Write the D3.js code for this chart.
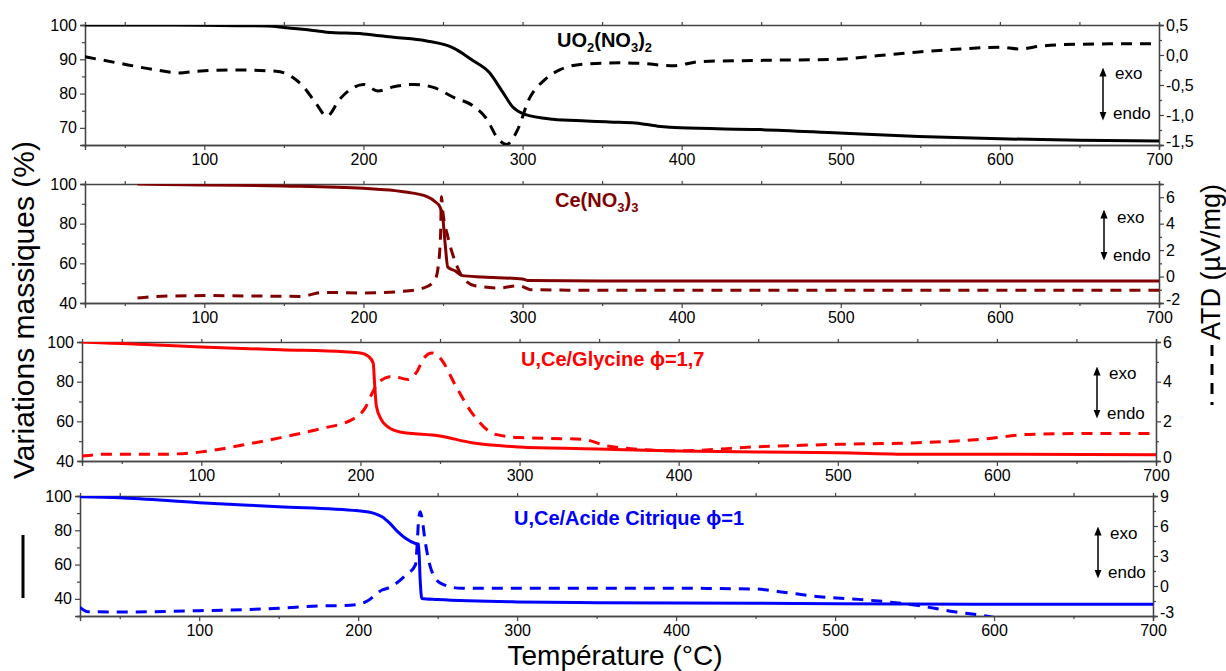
<!DOCTYPE html>
<html><head><meta charset="utf-8">
<script src="https://cdn.jsdelivr.net/npm/d3@7"></script>
<style>
html,body{margin:0;padding:0;background:#fff;}
svg{display:block;font-family:"Liberation Sans",Arial,sans-serif;}
</style></head>
<body><svg id="c" width="1226" height="671"></svg>
<script>
// ---------- DATA ----------
const xTicks = [100,200,300,400,500,600,700];
const xMinor = [50,150,250,350,450,550,650];

// Panel 1 : UO2(NO3)2
const uoTgT = [25,60,100,140,150,165,177,200,219,239,257,263,269,279,287,294,301,319,340,361,369,385,399,449,499,549,600,650,700];
const uoTgV = [100,100,99.9,99.7,99.3,98.6,97.9,97.4,96.4,95.4,93.2,91.5,89.6,86.2,80.8,76,74,72.5,72,71.6,71.5,70.5,70.0,69.5,68.5,67.5,66.8,66.4,66.2];
const uoDtaT = [25,45,70,84,95,120,145,157,162,170,177,185,192,200,209,219,232,244,257,269,277,285,290,297,304,314,324,339,361,374,395,411,449,499,524,549,575,600,612,626,651,700];
const uoDtaV = [-0.03,-0.13,-0.25,-0.30,-0.27,-0.25,-0.27,-0.40,-0.52,-0.80,-1.02,-0.74,-0.57,-0.49,-0.60,-0.53,-0.49,-0.54,-0.71,-0.85,-1.05,-1.41,-1.49,-1.24,-0.74,-0.41,-0.24,-0.15,-0.13,-0.14,-0.18,-0.11,-0.09,-0.07,-0.01,0.05,0.10,0.13,0.10,0.15,0.18,0.19];

// Panel 2 : Ce(NO3)3
const ceTgT = [58,100,150,200,225,240,245,248,250,251.5,253,258,262,275,300,303,350,700];
const ceTgV = [100,99.5,99.0,97.8,96.1,93.6,91.1,88.6,81.9,68.5,58.1,56,53.8,53.1,52.1,51.4,51.1,51.1];
const ceDtaT = [58,70,100,160,175,200,225,238,245,247,248.5,249,250,253,258,262,270,285,298,305,350,700];
const ceDtaV = [-1.62,-1.5,-1.44,-1.5,-1.2,-1.24,-1.12,-0.86,-0.24,0.77,3.28,6.05,4.8,3.03,1.02,0.0,-0.69,-0.86,-0.69,-0.99,-1.04,-1.04];

// Panel 3 : U,Ce/Glycine
const glTgT = [25,50,100,150,190,200,205,208,209,210,213,218,225,250,270,300,340,355,400,450,500,550,600,700];
const glTgV = [100,99.2,97.5,96.1,95.1,94.5,92.8,89.4,77.7,67.7,61,56.8,54.6,52.6,49.2,47.1,46.2,45.9,45.1,44.6,44.2,43.4,43.4,43.2];
const glDtaT = [25,40,75,100,125,150,175,195,203,208,212,220,230,235,240,245,250,260,270,285,300,340,355,370,400,450,500,550,590,620,660,700];
const glDtaV = [0.25,0.34,0.34,0.46,0.79,1.18,1.63,2.1,2.68,3.52,4.02,4.27,4.11,4.44,5.2,5.45,5.2,3.77,2.43,1.34,1.18,1.09,0.76,0.62,0.51,0.72,0.84,0.92,1.09,1.34,1.39,1.39];

// Panel 4 : U,Ce/Acide Citrique
const caTgT = [25,50,100,150,200,210,215,220,225,230,236,238,239,240,250,300,350,400,500,600,700];
const caTgV = [99.6,99,96.1,93.8,91.4,89.9,87.9,84,79.1,75.2,72.3,71.9,50.9,40.2,39.6,38.2,37.8,37.6,37.2,36.8,36.8];
const caDtaT = [25,30,50,100,150,175,195,205,215,220,230,236,237,238,239,240,242,246,252,265,300,350,400,450,465,490,520,550,575,595,605];
const caDtaV = [-2.13,-2.57,-2.6,-2.47,-2.23,-2.0,-1.93,-1.57,-0.4,-0.13,1.1,2.1,3.9,6.6,7.43,6.93,4.6,1.6,0.27,-0.23,-0.23,-0.23,-0.23,-0.3,-0.57,-1.07,-1.4,-1.9,-2.57,-3.0,-3.3];

// Axis ticks
const p1LeftTicks = [70,80,90,100], p1LeftMinor = [65,75,85,95];
const p1RightTicks = [0.5,0,-0.5,-1,-1.5], p1RightMinor = [0.25,-0.25,-0.75,-1.25];
const p2LeftTicks = [40,60,80,100], p2LeftMinor = [50,70,90];
const p2RightTicks = [-2,0,2,4,6], p2RightMinor = [-1,1,3,5,7];
const p3LeftTicks = [40,60,80,100], p3LeftMinor = [50,70,90];
const p3RightTicks = [0,2,4,6], p3RightMinor = [1,3,5];
const p4LeftTicks = [40,60,80,100], p4LeftMinor = [30,50,70,90];
const p4RightTicks = [-3,0,3,6,9], p4RightMinor = [-1.5,1.5,4.5,7.5];

const titles = ["UO2(NO3)2","Ce(NO3)3","U,Ce/Glycine ϕ=1,7","U,Ce/Acide Citrique ϕ=1"];

// ---------- LAYOUT ----------
const panels = [
  {box:[85,1159,25,145], xDom:[25,700], yL:[65,100], yR:[-1.5,0.5], color:"#000000",
   tg:[uoTgT,uoTgV], dta:[uoDtaT,uoDtaV], lt:p1LeftTicks, lm:p1LeftMinor, rt:p1RightTicks, rm:p1RightMinor,
   rfmt:d=>d3.format(".1f")(d).replace("−","-").replace(".",","),
   title:{x:557,y:47}, arrow:{x:1103,y1:68,y2:120,ex:1115,ey:79,nx:1113,ny:119}},
  {box:[85,1159,184,303], xDom:[25,700], yL:[40,100], yR:[-2,7], color:"#800000",
   tg:[ceTgT,ceTgV], dta:[ceDtaT,ceDtaV], lt:p2LeftTicks, lm:p2LeftMinor, rt:p2RightTicks, rm:p2RightMinor,
   rfmt:d=>String(d),
   title:{x:555,y:207}, arrow:{x:1104,y1:210,y2:260,ex:1117,ey:223,nx:1113,ny:261}},
  {box:[82,1156,342,461], xDom:[25,700], yL:[40,100], yR:[0,6], color:"#ff0000",
   tg:[glTgT,glTgV], dta:[glDtaT,glDtaV], lt:p3LeftTicks, lm:p3LeftMinor, rt:p3RightTicks, rm:p3RightMinor,
   rfmt:d=>String(d),
   title:{x:521,y:366}, arrow:{x:1097,y1:367,y2:418,ex:1109,ey:379,nx:1107,ny:419}},
  {box:[80,1153,496,616], xDom:[25,700], yL:[30,100], yR:[-3,9], color:"#0000ff",
   tg:[caTgT,caTgV], dta:[caDtaT,caDtaV], lt:p4LeftTicks, lm:p4LeftMinor, rt:p4RightTicks, rm:p4RightMinor,
   rfmt:d=>String(d),
   title:{x:514,y:525}, arrow:{x:1098,y1:527,y2:578,ex:1110,ey:539,nx:1108,ny:578}}
];

const svg = d3.select("#c");
const defs = svg.append("defs");
defs.append("marker").attr("id","ah").attr("viewBox","0 0 10 10").attr("refX",5).attr("refY",5)
  .attr("markerWidth",6).attr("markerHeight",8).attr("orient","auto-start-reverse")
  .append("path").attr("d","M0,1 L10,5 L0,9 Z").attr("fill","#000");

const tickFont = "16px";
const axisColor = "#444";

panels.forEach((p,i)=>{
  const [l,r,t,b] = p.box;
  const x = d3.scaleLinear().domain(p.xDom).range([l,r]);
  const yL = d3.scaleLinear().domain(p.yL).range([b,t]);
  const yR = d3.scaleLinear().domain(p.yR).range([b,t]);
  const g = svg.append("g");

  defs.append("clipPath").attr("id","clip"+i).append("rect")
    .attr("x",l).attr("y",t).attr("width",r-l).attr("height",b-t);

  const styleAxis = sel => {
    sel.select(".domain").attr("stroke",axisColor).attr("stroke-width",1.3);
    sel.selectAll(".tick line").attr("stroke",axisColor).attr("stroke-width",1.2);
    sel.selectAll("text").attr("font-size",tickFont).attr("fill","#000")
      .attr("font-family","'Liberation Sans',Arial,sans-serif");
  };
  // bottom
  g.append("g").attr("transform",`translate(0,${b})`)
    .call(d3.axisBottom(x).tickValues(xTicks).tickSize(5).tickPadding(4).tickFormat(d3.format("d")))
    .call(styleAxis);
  g.append("g").attr("transform",`translate(0,${b})`)
    .call(d3.axisBottom(x).tickValues(xMinor).tickSize(3).tickFormat(""))
    .call(styleAxis);
  // top
  g.append("g").attr("transform",`translate(0,${t})`)
    .call(d3.axisTop(x).tickValues(xTicks.concat(xMinor)).tickSize(3).tickFormat(""))
    .call(styleAxis);
  // left
  g.append("g").attr("transform",`translate(${l},0)`)
    .call(d3.axisLeft(yL).tickValues(p.lt).tickSize(5).tickPadding(3).tickFormat(d3.format("d")))
    .call(styleAxis);
  g.append("g").attr("transform",`translate(${l},0)`)
    .call(d3.axisLeft(yL).tickValues(p.lm).tickSize(3).tickFormat(""))
    .call(styleAxis);
  // right
  const ra = g.append("g").attr("transform",`translate(${r},0)`)
    .call(d3.axisRight(yR).tickValues(p.rt).tickSize(5).tickPadding(2).tickFormat(p.rfmt))
    .call(styleAxis);
  // lowest right label sits slightly raised, as in the reference
  ra.selectAll(".tick").filter(d=>d===p.yR[0]).select("text").attr("dy","0.1em");
  g.append("g").attr("transform",`translate(${r},0)`)
    .call(d3.axisRight(yR).tickValues(p.rm).tickSize(3).tickFormat(""))
    .call(styleAxis);

  // lines
  const cg = g.append("g").attr("clip-path",`url(#clip${i})`);
  const tgData = p.tg[0].map((v,k)=>[v,p.tg[1][k]]);
  const dtaData = p.dta[0].map((v,k)=>[v,p.dta[1][k]]);
  cg.append("path").datum(dtaData)
    .attr("d",d3.line().x(d=>x(d[0])).y(d=>yR(d[1])).curve(d3.curveMonotoneX))
    .attr("fill","none").attr("stroke",p.color).attr("stroke-width",3)
    .attr("stroke-dasharray","11,8");
  cg.append("path").datum(tgData)
    .attr("d",d3.line().x(d=>x(d[0])).y(d=>yL(d[1])).curve(d3.curveMonotoneX))
    .attr("fill","none").attr("stroke",p.color).attr("stroke-width",3);

  // title
  const tt = g.append("text").attr("x",p.title.x).attr("y",p.title.y)
    .attr("font-size","20px").attr("font-weight","bold").attr("fill",p.color);
  const sub = s => tt.append("tspan").attr("font-size","13px").attr("dy",5).text(s);
  const norm = s => tt.append("tspan").attr("dy",-5).text(s);
  if(i===0){
    tt.append("tspan").text("UO"); sub("2"); norm("(NO"); sub("3"); norm(")"); sub("2");
  } else if(i===1){
    tt.append("tspan").text("Ce(NO"); sub("3"); norm(")"); sub("3");
  } else {
    tt.text(titles[i]);
  }

  // exo/endo arrow
  const a = p.arrow;
  g.append("line").attr("x1",a.x).attr("x2",a.x).attr("y1",a.y1+4).attr("y2",a.y2-4)
    .attr("stroke","#000").attr("stroke-width",1.5)
    .attr("marker-start","url(#ah)").attr("marker-end","url(#ah)");
  g.append("text").attr("x",a.ex).attr("y",a.ey).attr("font-size","17px").text("exo");
  g.append("text").attr("x",a.nx).attr("y",a.ny).attr("font-size","17px").text("endo");
});

// axis titles
svg.append("text").attr("x",615).attr("y",665).attr("text-anchor","middle")
  .attr("font-size","28px").text("Température (°C)");

svg.append("text").attr("transform","translate(34,310) rotate(-90)").attr("text-anchor","middle")
  .attr("font-size","30px").text("Variations massiques (%)");
svg.append("line").attr("x1",23).attr("x2",23).attr("y1",535).attr("y2",598)
  .attr("stroke","#000").attr("stroke-width",3);

svg.append("text").attr("transform","translate(1220,262) rotate(-90)").attr("text-anchor","middle")
  .attr("font-size","27px").text("ATD (µV/mg)");
svg.append("line").attr("x1",1212).attr("x2",1212).attr("y1",345).attr("y2",405)
  .attr("stroke","#000").attr("stroke-width",3).attr("stroke-dasharray","11,8");
</script></body></html>
